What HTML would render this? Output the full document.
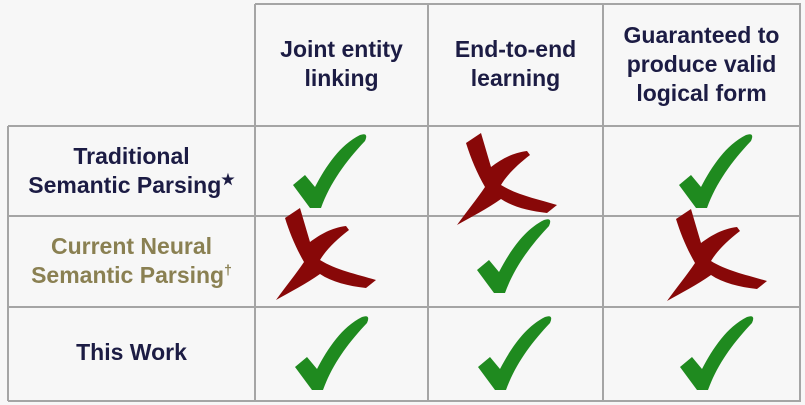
<!DOCTYPE html>
<html><head><style>
body{margin:0;width:805px;height:405px;background:#f7f7f7;position:relative;overflow:hidden;font-family:"Liberation Sans",sans-serif}
.t{position:absolute;text-align:center;font-weight:bold;color:#1c1c44;font-size:23px;line-height:29px}
</style></head><body>
<svg width="805" height="405" style="position:absolute;left:0;top:0">
<g stroke="#a5a5a5" stroke-width="2" fill="none">
<line x1="255" y1="4" x2="801" y2="4"/>
<line x1="8" y1="126" x2="801" y2="126"/>
<line x1="8" y1="216" x2="801" y2="216"/>
<line x1="8" y1="307" x2="801" y2="307"/>
<line x1="8" y1="401" x2="801" y2="401"/>
<line x1="8" y1="126" x2="8" y2="401"/>
<line x1="255" y1="4" x2="255" y2="401"/>
<line x1="428" y1="4" x2="428" y2="401"/>
<line x1="603" y1="4" x2="603" y2="401"/>
<line x1="800" y1="4" x2="800" y2="401"/>
</g>
<defs>
<path id="ck" fill="#1f8a1f" d="M3,52 L15,42 L25,54 C36,33 50,12 70,2 Q79,-1 75,8 C56,28 40,50 31,75 L20,75 Z"/>
<path id="xx" fill="#880808" d="M9,10 L24,0 L34,34 C45,26 55,20 70,18 L73,22 C60,32 50,42 44,52 C60,62 80,66 100,72 L90,80 C72,78 56,74 44,66 C30,76 14,84 0,92 C10,78 20,66 28,54 C20,40 14,26 9,10 Z"/>
</defs>
<use href="#ck" x="290" y="133"/>
<use href="#xx" x="457" y="133"/>
<use href="#ck" x="676" y="133"/>
<use href="#xx" x="276" y="208"/>
<use href="#ck" x="474" y="218"/>
<use href="#xx" x="667" y="209"/>
<use href="#ck" x="292" y="315"/>
<use href="#ck" x="475" y="315"/>
<use href="#ck" x="677" y="315"/>
</svg>
<div class="t" style="left:255px;width:173px;top:35px">Joint entity<br>linking</div>
<div class="t" style="left:428px;width:175px;top:35px">End-to-end<br>learning</div>
<div class="t" style="left:603px;width:197px;top:21px">Guaranteed to<br>produce valid<br>logical form</div>
<div class="t" style="left:8px;width:247px;top:142px">Traditional<br>Semantic Parsing<sup style="font-size:15px;line-height:0">★</sup></div>
<div class="t" style="left:8px;width:247px;top:232px;color:#8a8052">Current Neural<br>Semantic Parsing<sup style="font-size:14px;line-height:0">†</sup></div>
<div class="t" style="left:8px;width:247px;top:338px">This Work</div>
</body></html>
